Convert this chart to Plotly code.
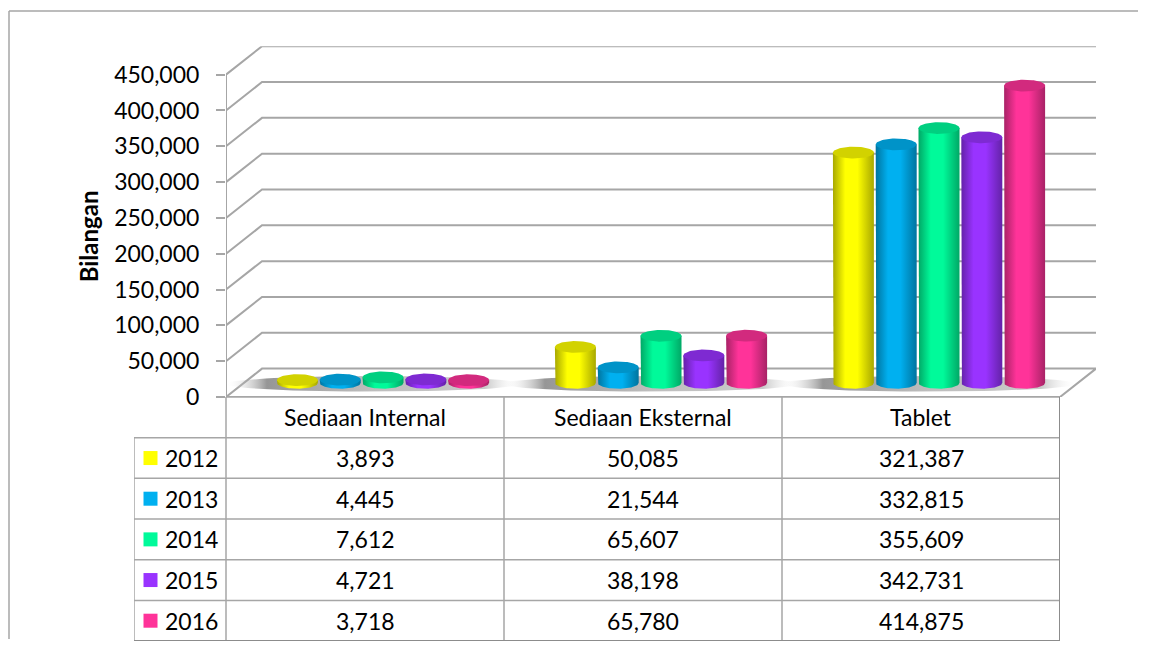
import numpy as np
import plotly.graph_objects as go

# ---------------- data ----------------
categories = ["Sediaan Internal", "Sediaan Eksternal", "Tablet"]
years = ["2012", "2013", "2014", "2015", "2016"]
v2012 = [3893, 50085, 321387]
v2013 = [4445, 21544, 332815]
v2014 = [7612, 65607, 355609]
v2015 = [4721, 38198, 342731]
v2016 = [3718, 65780, 414875]
series = [v2012, v2013, v2014, v2015, v2016]
y_ticks = list(range(0, 450001, 50000))
y_title = "Bilangan"

# ---------------- style ----------------
base_cols = ["#FFFF00", "#00B0F0", "#00FA9A", "#9933FF", "#FF3399"]
dark_cols = ["#A8A800", "#00749F", "#00A866", "#6422A8", "#A82266"]
top_cols = ["#D2D200", "#0093C8", "#00CF80", "#7E2AD2", "#D22A7E"]
FONT = "Lato"
FS = 23
GRID = "#A6A6A6"

# page geometry (the page body has an 8px margin); keep the figure inside the window
OFF = 8
FW, FH = 1149 - 2 * OFF, 665 - 2 * OFF - 1
def PX(X):
    return (X - OFF) / FW
def PY(Y):
    return 1 - (Y - OFF) / FH

FX0, FX1 = 226, 1060          # front floor edge (px)
FY0, FY450 = 405, 76          # y pixel of 0 and 450,000 on the front plane
DXP, DYP = 36, 29             # depth offset (px)
px_x = (FX1 - FX0) / 3.0
px_y = (FY0 - FY450) / 450000.0
DX = DXP / px_x
DY = DYP / px_y
YMAX = 450000

fig = go.Figure()

# back wall gridlines + side-wall diagonals
gx, gy = [], []
for v in y_ticks[1:]:
    gx += [-0.5, -0.5 + DX, 2.5 + DX, None]
    gy += [v, v + DY, v + DY, None]
fig.add_trace(go.Scatter(x=gx, y=gy, mode="lines", line=dict(color=GRID, width=2),
                         hoverinfo="skip", showlegend=False))
# floor
fig.add_trace(go.Scatter(x=[-0.5, 2.5, 2.5 + DX, -0.5 + DX, -0.5],
                         y=[0, 0, DY, DY, 0], mode="lines", fill="toself",
                         fillcolor="white", line=dict(color=GRID, width=2),
                         hoverinfo="skip", showlegend=False))
# front vertical axis line
fig.add_trace(go.Scatter(x=[-0.5, -0.5], y=[0, YMAX], mode="lines",
                         line=dict(color=GRID, width=2), hoverinfo="skip", showlegend=False))

# cylinders
SP = 42.8 / px_x
RX = 20.5 / px_x
RY = 6.0 / px_y
BASE = DY / 2
t_low = np.linspace(np.pi, 2 * np.pi, 40)
t_all = np.linspace(0, 2 * np.pi, 80)

for i, cat in enumerate(categories):
    gc = i + DX / 2
    # soft shadow on the floor
    sx = gc - 10 / px_x + (2.5 * SP + RX + 20 / px_x) * np.cos(t_all)
    sy = BASE - 1 / px_y + (8 / px_y) * np.sin(t_all)
    fig.add_trace(go.Scatter(x=sx, y=sy, mode="lines", line=dict(width=0),
                             fill="toself",
                             fillgradient=dict(type="horizontal", colorscale=[
                                 [0, "rgba(255,255,255,0)"], [0.14, "rgba(80,80,80,0.6)"],
                                 [0.5, "rgba(110,110,110,0.45)"], [0.88, "rgba(120,120,120,0.4)"],
                                 [1, "rgba(255,255,255,0)"]]),
                             hoverinfo="skip", showlegend=False))
    for j, vals in enumerate(series):
        cx = gc + (j - 2) * SP
        top = BASE + vals[i]
        bx = [cx - RX, cx - RX] + list(cx + RX * np.cos(t_low)) + [cx + RX, cx + RX, cx - RX]
        by = [top, BASE] + list(BASE + RY * np.sin(t_low)) + [BASE, top, top]
        fig.add_trace(go.Scatter(x=bx, y=by, mode="lines", line=dict(width=0),
                                 fill="toself",
                                 fillgradient=dict(type="horizontal", colorscale=[
                                     [0, dark_cols[j]], [0.3, base_cols[j]],
                                     [0.6, base_cols[j]], [1, dark_cols[j]]]),
                                 hoverinfo="skip", showlegend=False))
        tx = cx + RX * np.cos(t_all)
        ty = top + RY * np.sin(t_all)
        fig.add_trace(go.Scatter(x=tx, y=ty, mode="lines", line=dict(width=0),
                                 fill="toself", fillcolor=top_cols[j],
                                 hoverinfo="skip", showlegend=False))

# ---------------- data table (x2 / y2: columns = categories, rows = years) ----------------
LEGW = 92
LX = -0.5 - LEGW / px_x
nrows = len(years)
tx_, ty_ = [], []
tx_ += [-0.5, 2.5, None]
ty_ += [-1.5, -1.5, None]
for r in range(nrows):
    tx_ += [LX, 2.5, None]
    ty_ += [r - 0.5, r - 0.5, None]
tx_ += [LX, LX, None]
ty_ += [-0.5, nrows - 0.5, None]
for c in range(len(categories)):
    tx_ += [c - 0.5, c - 0.5, None]
    ty_ += [-1.5, nrows - 0.5, None]
fig.add_trace(go.Scatter(x=tx_, y=ty_, mode="lines", xaxis="x2", yaxis="y2",
                         line=dict(color=GRID, width=1.5), hoverinfo="skip", showlegend=False))
fig.add_trace(go.Scatter(x=[LX, 2.5, 2.5], y=[nrows - 0.5, nrows - 0.5, -1.5], mode="lines",
                         xaxis="x2", yaxis="y2", line=dict(color="#8C8C8C", width=2),
                         hoverinfo="skip", showlegend=False))
fig.add_trace(go.Scatter(x=[LX + 16.5 / px_x] * nrows, y=list(range(nrows)), mode="markers",
                         xaxis="x2", yaxis="y2",
                         marker=dict(symbol="square", size=14, color=base_cols, line=dict(width=0)),
                         hoverinfo="skip", showlegend=False))

annotations = []
for c, cat in enumerate(categories):
    annotations.append(dict(text=cat, x=c, y=-1, xref="x2", yref="y2", showarrow=False,
                            xanchor="center", yanchor="middle",
                            font=dict(family=FONT, size=FS, color="black")))
    for r, s in enumerate(series):
        annotations.append(dict(text=f"{s[c]:,}", x=c, y=r, xref="x2", yref="y2",
                                showarrow=False, xanchor="center", yanchor="middle",
                                font=dict(family=FONT, size=FS, color="black")))
for r, yname in enumerate(years):
    annotations.append(dict(text=yname, x=LX + 29 / px_x, y=r, xref="x2", yref="y2",
                            showarrow=False, xanchor="left", yanchor="middle",
                            font=dict(family=FONT, size=FS, color="black")))
annotations.append(dict(text=f"<b>{y_title}</b>", textangle=-90, xref="paper", yref="paper",
                        x=PX(88), y=PY(241), showarrow=False, xanchor="center",
                        yanchor="middle", font=dict(family=FONT, size=24, color="black")))

# chart-area frame: only its left and top edges fall inside the picture
frame = [
    dict(type="line", xref="paper", yref="paper", x0=PX(9), x1=PX(9), y0=PY(652), y1=PY(11),
         line=dict(color="#A6A6A6", width=1.5)),
    dict(type="line", xref="paper", yref="paper", x0=PX(9), x1=PX(1138), y0=PY(11), y1=PY(11),
         line=dict(color="#A6A6A6", width=1.5)),
]

fig.update_layout(
    width=FW, height=FH, margin=dict(l=0, r=0, t=0, b=0),
    paper_bgcolor="white", plot_bgcolor="rgba(0,0,0,0)",
    font=dict(family=FONT, size=FS, color="black"),
    xaxis=dict(range=[-0.5, 2.5 + DX], domain=[PX(FX0), PX(FX1 + DXP)],
               visible=False, fixedrange=True, anchor="y"),
    yaxis=dict(range=[0, YMAX + DY], domain=[PY(FY0), PY(FY450 - DYP)], anchor="x",
               tickvals=y_ticks, tickformat=",", ticks="outside", ticklen=9,
               tickcolor=GRID, tickwidth=1.5, showgrid=False, zeroline=False,
               showline=False, ticklabelstandoff=12,
               tickfont=dict(family=FONT, size=FS, color="black"), fixedrange=True),
    xaxis2=dict(range=[LX, 2.5], domain=[PX(134), PX(FX1)], anchor="y2",
                visible=False, fixedrange=True),
    yaxis2=dict(range=[nrows - 0.5, -1.5], domain=[PY(654), PY(FY0)], anchor="x2",
                visible=False, fixedrange=True),
    shapes=frame,
    annotations=annotations,
)

fig.write_html("out.html")
